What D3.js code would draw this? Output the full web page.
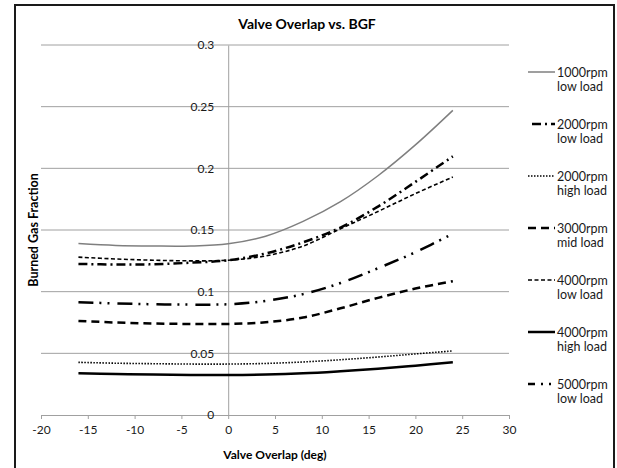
<!DOCTYPE html>
<html>
<head>
<meta charset="utf-8">
<script src="https://cdn.jsdelivr.net/npm/d3@7"></script>
<style>
  body { margin: 0; background: #fff; }
  svg { display: block; font-family: Lato, "Open Sans", sans-serif; }
</style>
</head>
<body>
<svg width="617" height="468"></svg>
<script>
// valve overlap in degrees, one point every 4 deg
const overlap = [-16, -12, -8, -4, 0, 4, 8, 12, 16, 20, 24];

const rpm1000Low = [0.139, 0.1375, 0.137, 0.137, 0.1388, 0.145, 0.157, 0.173, 0.194, 0.219, 0.247];
const rpm2000Low = [0.1225, 0.122, 0.1222, 0.1235, 0.1255, 0.131, 0.140, 0.152, 0.169, 0.189, 0.2097];
const rpm2000High = [0.0427, 0.042, 0.0416, 0.0413, 0.0413, 0.0418, 0.043, 0.0448, 0.047, 0.0495, 0.052];
const rpm3000Mid = [0.0763, 0.075, 0.0742, 0.0738, 0.0738, 0.0752, 0.079, 0.0865, 0.095, 0.1025, 0.1085];
const rpm4000Low = [0.128, 0.1265, 0.1255, 0.125, 0.1255, 0.129, 0.137, 0.151, 0.165, 0.1795, 0.193];
const rpm4000High = [0.0338, 0.0333, 0.0328, 0.0325, 0.0324, 0.0328, 0.0338, 0.0355, 0.0375, 0.04, 0.0427];
const rpm5000Low = [0.0915, 0.0905, 0.0898, 0.0895, 0.0898, 0.0925, 0.098, 0.107, 0.119, 0.132, 0.147];

const seriesNames = [
  ['1000rpm', 'low load'],
  ['2000rpm', 'low load'],
  ['2000rpm', 'high load'],
  ['3000rpm', 'mid load'],
  ['4000rpm', 'low load'],
  ['4000rpm', 'high load'],
  ['5000rpm', 'low load'],
];
const xTicks = [-20, -15, -10, -5, 0, 5, 10, 15, 20, 25, 30];
const yTicks = [0, 0.05, 0.1, 0.15, 0.2, 0.25, 0.3];

// legendOffset shifts the dash phase so the legend sample reads like Excel's
const series = [
  { values: rpm1000Low, color: '#7f7f7f', width: 1.5, dash: null, legendOffset: 0 },
  { values: rpm2000Low, color: '#000', width: 2.5, dash: '9 4 2 4', legendOffset: -4 },
  { values: rpm2000High, color: '#000', width: 1.6, dash: '1.5 1.5', legendOffset: 0 },
  { values: rpm3000Mid, color: '#000', width: 2.5, dash: '8 5', legendOffset: 0 },
  { values: rpm4000Low, color: '#000', width: 1.6, dash: '4 2.5', legendOffset: 0 },
  { values: rpm4000High, color: '#000', width: 2.5, dash: null, legendOffset: 0 },
  { values: rpm5000Low, color: '#000', width: 2.5, dash: '15 6 2 6 2 8', legendOffset: 8 },
];

const svg = d3.select('svg');
const plotLeft = 41;
const plotRight = 509;
const plotTop = 45;
const plotBottom = 415;

const x = d3.scaleLinear().domain([-20, 30]).range([plotLeft, plotRight]);
const y = d3.scaleLinear().domain([0, 0.3]).range([plotBottom, plotTop]);

svg.append('rect')
  .attr('width', 617).attr('height', 468).attr('fill', '#fff');

// chart frame
svg.append('rect')
  .attr('x', 15).attr('y', 5)
  .attr('width', 599).attr('height', 480)
  .attr('fill', 'none')
  .attr('stroke', '#1a1a1a')
  .attr('stroke-width', 2);

svg.append('text')
  .attr('x', 307).attr('y', 29)
  .attr('text-anchor', 'middle')
  .attr('font-weight', 'bold')
  .attr('font-size', 14)
  .text('Valve Overlap vs. BGF');

// horizontal gridlines
svg.append('g')
  .selectAll('line')
  .data(yTicks.slice(1))
  .join('line')
  .attr('x1', plotLeft).attr('x2', plotRight)
  .attr('y1', d => y(d)).attr('y2', d => y(d))
  .attr('stroke', '#a0a0a0')
  .attr('stroke-width', 1);

// x axis along y = 0
const xAxis = svg.append('g')
  .attr('transform', `translate(0,${y(0)})`)
  .call(d3.axisBottom(x).tickValues(xTicks).tickSize(4).tickPadding(6).tickSizeOuter(0)
    .tickFormat(d => String(d)));
xAxis.select('.domain').attr('stroke', '#a0a0a0');
xAxis.selectAll('.tick line').attr('stroke', '#a0a0a0');
xAxis.selectAll('.tick text')
  .attr('font-family', 'Lato, sans-serif')
  .attr('font-size', 12)
  .attr('fill', '#1a1a1a');

// y axis sits at x = 0
const yAxis = svg.append('g')
  .attr('transform', `translate(${x(0)},0)`)
  .call(d3.axisLeft(y).tickValues(yTicks).tickSize(0).tickPadding(14).tickFormat(d => String(d)));
yAxis.select('.domain').attr('stroke', '#a0a0a0');
yAxis.selectAll('.tick text')
  .attr('font-family', 'Lato, sans-serif')
  .attr('font-size', 12)
  .attr('fill', '#1a1a1a');

svg.append('text')
  .attr('x', (plotLeft + plotRight) / 2).attr('y', 459)
  .attr('text-anchor', 'middle')
  .attr('font-weight', 'bold')
  .attr('font-size', 12)
  .text('Valve Overlap (deg)');

svg.append('text')
  .attr('transform', `translate(38,${(plotTop + plotBottom) / 2}) rotate(-90)`)
  .attr('text-anchor', 'middle')
  .attr('font-weight', 'bold')
  .attr('font-size', 12.5)
  .text('Burned Gas Fraction');

const line = d3.line()
  .x((d, i) => x(overlap[i]))
  .y(d => y(d))
  .curve(d3.curveCatmullRom.alpha(0.5));

svg.append('g')
  .selectAll('path')
  .data(series)
  .join('path')
  .attr('d', d => line(d.values))
  .attr('fill', 'none')
  .attr('stroke', d => d.color)
  .attr('stroke-width', d => d.width)
  .attr('stroke-dasharray', d => d.dash);

// legend
const legend = svg.append('g')
  .selectAll('g')
  .data(series)
  .join('g')
  .attr('transform', (d, i) => `translate(0,${72 + i * 52})`);

legend.append('line')
  .attr('x1', 528).attr('x2', 555)
  .attr('stroke', d => d.color)
  .attr('stroke-width', d => d.width)
  .attr('stroke-dasharray', d => d.dash)
  .attr('stroke-dashoffset', d => d.legendOffset);

legend.append('text')
  .attr('x', 557).attr('y', 4.5)
  .attr('font-size', 12.5)
  .attr('fill', '#1a1a1a')
  .text((d, i) => seriesNames[i][0]);

legend.append('text')
  .attr('x', 557).attr('y', 19)
  .attr('font-size', 12.5)
  .attr('fill', '#1a1a1a')
  .text((d, i) => seriesNames[i][1]);
</script>
</body>
</html>
